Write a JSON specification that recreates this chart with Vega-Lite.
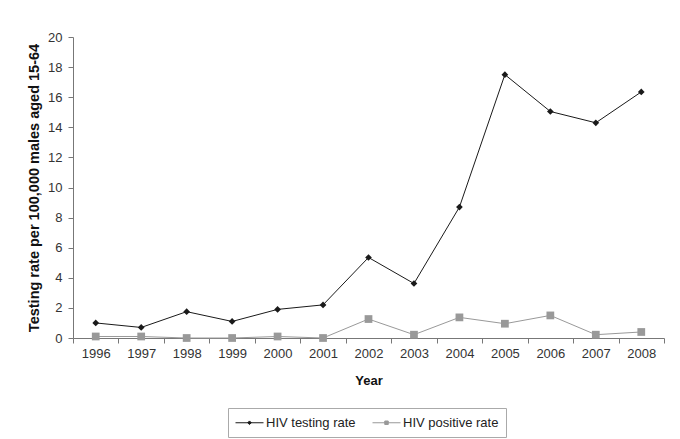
{
  "$schema": "https://vega.github.io/schema/vega-lite/v6.json",
  "width": 591,
  "height": 301,
  "autosize": {"type": "none"},
  "padding": {"left": 73, "top": 37, "right": 16, "bottom": 101},
  "background": "white",
  "config": {
    "view": {"stroke": null},
    "font": "Liberation Sans",
    "axis": {"grid": false, "domainColor": "#777", "tickColor": "#777", "labelColor": "#333", "labelFontSize": 13, "titleFontSize": 13, "titleFontWeight": "bold", "titleColor": "#111"}
  },
  "data": {
    "values": [
      {"year": "1996", "series": "HIV testing rate", "rate": 1.0},
      {"year": "1997", "series": "HIV testing rate", "rate": 0.7},
      {"year": "1998", "series": "HIV testing rate", "rate": 1.75},
      {"year": "1999", "series": "HIV testing rate", "rate": 1.1},
      {"year": "2000", "series": "HIV testing rate", "rate": 1.9},
      {"year": "2001", "series": "HIV testing rate", "rate": 2.2},
      {"year": "2002", "series": "HIV testing rate", "rate": 5.35},
      {"year": "2003", "series": "HIV testing rate", "rate": 3.62},
      {"year": "2004", "series": "HIV testing rate", "rate": 8.7},
      {"year": "2005", "series": "HIV testing rate", "rate": 17.5},
      {"year": "2006", "series": "HIV testing rate", "rate": 15.05},
      {"year": "2007", "series": "HIV testing rate", "rate": 14.3},
      {"year": "2008", "series": "HIV testing rate", "rate": 16.35},
      {"year": "1996", "series": "HIV positive rate", "rate": 0.1},
      {"year": "1997", "series": "HIV positive rate", "rate": 0.1},
      {"year": "1998", "series": "HIV positive rate", "rate": 0.0},
      {"year": "1999", "series": "HIV positive rate", "rate": 0.0},
      {"year": "2000", "series": "HIV positive rate", "rate": 0.1},
      {"year": "2001", "series": "HIV positive rate", "rate": 0.0},
      {"year": "2002", "series": "HIV positive rate", "rate": 1.26},
      {"year": "2003", "series": "HIV positive rate", "rate": 0.22},
      {"year": "2004", "series": "HIV positive rate", "rate": 1.37},
      {"year": "2005", "series": "HIV positive rate", "rate": 0.95},
      {"year": "2006", "series": "HIV positive rate", "rate": 1.5},
      {"year": "2007", "series": "HIV positive rate", "rate": 0.22},
      {"year": "2008", "series": "HIV positive rate", "rate": 0.4}
    ]
  },
  "encoding": {
    "x": {
      "field": "year", "type": "ordinal", "title": "Year",
      "scale": {"paddingInner": 0, "paddingOuter": 0},
      "axis": {"labelAngle": 0, "tickBand": "extent", "tickSize": 5, "labelPadding": 4, "titlePadding": 14}
    },
    "y": {
      "field": "rate", "type": "quantitative",
      "title": "Testing rate per 100,000 males aged 15-64",
      "scale": {"domain": [0, 20]},
      "axis": {"values": [0, 2, 4, 6, 8, 10, 12, 14, 16, 18, 20], "tickSize": 5, "labelPadding": 6, "titlePadding": 6, "titleFontSize": 14.5}
    },
    "color": {
      "field": "series", "type": "nominal",
      "scale": {"domain": ["HIV testing rate", "HIV positive rate"], "range": ["#1a1a1a", "#999999"]},
      "legend": {
        "title": null,
        "orient": "none",
        "legendX": 155,
        "legendY": 371,
        "direction": "horizontal",
        "strokeColor": "#aaa",
        "padding": 7,
        "labelFontSize": 13,
        "labelColor": "#222",
        "labelOffset": 16,
        "columnPadding": 14,
        "symbolSize": 196,
        "symbolStrokeWidth": 1,
        "encode": {
          "symbols": {
            "update": {
              "shape": {"signal": "datum.value == 'HIV testing rate' ? 'M-1,0H3M1,-0.26L1.26,0L1,0.26L0.74,0Z' : 'M-1,0H3M0.75,-0.25H1.25V0.25H0.75Z'"},
              "stroke": {"signal": "datum.value == 'HIV testing rate' ? '#1a1a1a' : '#999999'"},
              "fill": {"signal": "datum.value == 'HIV testing rate' ? '#1a1a1a' : '#999999'"}
            }
          }
        }
      }
    }
  },
  "layer": [
    {"mark": {"type": "line", "strokeWidth": 1}},
    {
      "transform": [{"filter": "datum.series == 'HIV testing rate'"}],
      "mark": {"type": "point", "filled": true, "opacity": 1, "shape": "diamond", "size": 45}
    },
    {
      "transform": [{"filter": "datum.series == 'HIV positive rate'"}],
      "mark": {"type": "point", "filled": true, "opacity": 1, "shape": "square", "size": 60}
    }
  ]
}
